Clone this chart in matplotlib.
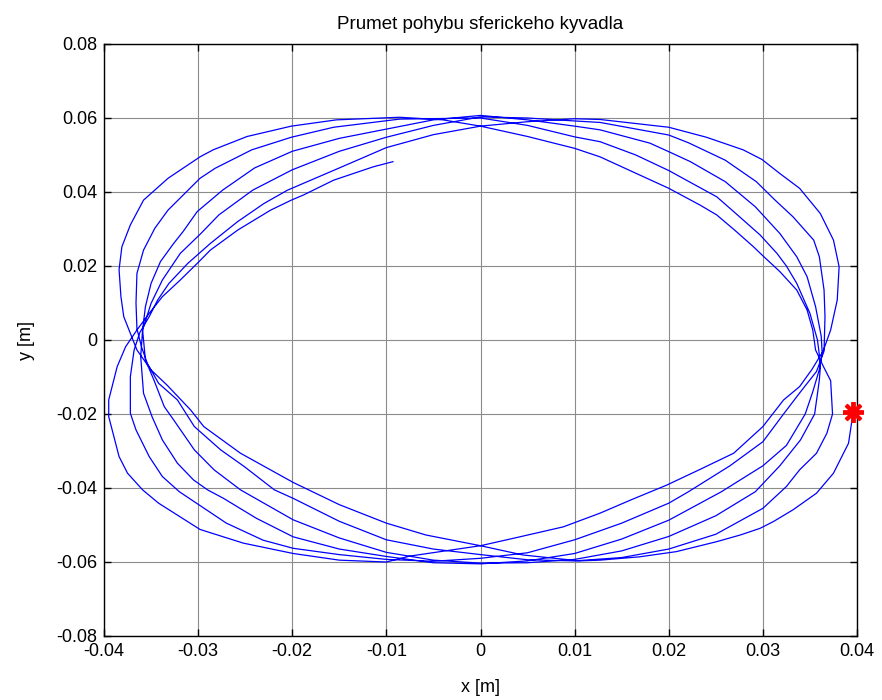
import numpy as np
import matplotlib
matplotlib.use("Agg")
import matplotlib.pyplot as plt

plt.rcParams['font.family'] = ['Liberation Sans', 'DejaVu Sans']

# Projected path of the spherical pendulum, one list of (x, y) points per revolution [m]
loop1 = [(0.0396, -0.0194), (0.0391, -0.0279), (0.0375, -0.0360), (0.0357, -0.0414), (0.0332, -0.0459),
         (0.0311, -0.0491), (0.0297, -0.0509), (0.0276, -0.0527), (0.0251, -0.0545), (0.0208, -0.0572),
         (0.0169, -0.0586), (0.0127, -0.0595), (0.0105, -0.0597), (0.0045, -0.0581), (0.0000, -0.0556),
         (-0.0058, -0.0527), (-0.0100, -0.0495), (-0.0150, -0.0445), (-0.0199, -0.0385), (-0.0223, -0.0351),
         (-0.0255, -0.0306), (-0.0294, -0.0234), (-0.0308, -0.0189), (-0.0333, -0.0122), (-0.0350, -0.0081),
         (-0.0365, -0.0027), (-0.0372, 0.0018), (-0.0379, 0.0063), (-0.0382, 0.0117), (-0.0384, 0.0190),
         (-0.0381, 0.0252), (-0.0372, 0.0311), (-0.0358, 0.0378), (-0.0332, 0.0437), (-0.0298, 0.0495),
         (-0.0284, 0.0514), (-0.0248, 0.0550), (-0.0201, 0.0578), (-0.0153, 0.0595), (-0.0086, 0.0602),
         (-0.0040, 0.0595), (0.0000, 0.0578), (0.0050, 0.0550), (0.0100, 0.0518), (0.0127, 0.0495),
         (0.0169, 0.0446), (0.0200, 0.0410), (0.0233, 0.0365), (0.0251, 0.0338), (0.0270, 0.0297),
         (0.0290, 0.0252), (0.0299, 0.0230), (0.0318, 0.0185), (0.0336, 0.0135), (0.0347, 0.0081),
         (0.0353, 0.0027), (0.0356, -0.0027)]

loop2 = [(0.0364, -0.0070), (0.0372, -0.0110), (0.0374, -0.0200), (0.0368, -0.0252), (0.0357, -0.0306),
         (0.0339, -0.0351), (0.0325, -0.0396), (0.0300, -0.0455), (0.0250, -0.0525), (0.0200, -0.0565),
         (0.0150, -0.0588), (0.0100, -0.0597), (0.0050, -0.0594), (0.0000, -0.0580), (-0.0050, -0.0565),
         (-0.0100, -0.0540), (-0.0150, -0.0490), (-0.0199, -0.0428), (-0.0219, -0.0405), (-0.0251, -0.0342),
         (-0.0276, -0.0297), (-0.0304, -0.0234), (-0.0322, -0.0162), (-0.0342, -0.0117), (-0.0354, -0.0063),
         (-0.0360, -0.0020), (-0.0365, 0.0030), (-0.0366, 0.0100), (-0.0365, 0.0180), (-0.0358, 0.0243),
         (-0.0346, 0.0302), (-0.0332, 0.0351), (-0.0298, 0.0437), (-0.0282, 0.0464), (-0.0243, 0.0514),
         (-0.0201, 0.0548), (-0.0156, 0.0575), (-0.0086, 0.0597), (0.0000, 0.0600), (0.0050, 0.0580),
         (0.0100, 0.0549), (0.0127, 0.0536), (0.0165, 0.0500), (0.0200, 0.0458), (0.0251, 0.0387),
         (0.0269, 0.0347), (0.0297, 0.0284), (0.0315, 0.0234), (0.0325, 0.0200), (0.0336, 0.0153),
         (0.0350, 0.0072), (0.0358, 0.0000), (0.0360, -0.0040)]

loop3 = [(0.0361, -0.0075), (0.0360, -0.0108), (0.0355, -0.0200), (0.0340, -0.0270), (0.0318, -0.0340),
         (0.0292, -0.0410), (0.0250, -0.0475), (0.0200, -0.0531), (0.0150, -0.0570), (0.0100, -0.0593),
         (0.0050, -0.0602), (0.0000, -0.0603), (-0.0050, -0.0595), (-0.0100, -0.0574), (-0.0150, -0.0535),
         (-0.0199, -0.0486), (-0.0255, -0.0405), (-0.0283, -0.0351), (-0.0304, -0.0297), (-0.0326, -0.0216),
         (-0.0336, -0.0180), (-0.0347, -0.0108), (-0.0356, -0.0054), (-0.0359, 0.0027), (-0.0356, 0.0090),
         (-0.0350, 0.0153), (-0.0340, 0.0212), (-0.0326, 0.0261), (-0.0316, 0.0293), (-0.0301, 0.0347),
         (-0.0274, 0.0405), (-0.0240, 0.0465), (-0.0200, 0.0510), (-0.0150, 0.0545), (-0.0100, 0.0570),
         (-0.0050, 0.0595), (0.0000, 0.0607), (0.0050, 0.0595), (0.0100, 0.0578), (0.0127, 0.0568),
         (0.0180, 0.0532), (0.0200, 0.0509), (0.0223, 0.0482), (0.0260, 0.0428), (0.0292, 0.0360),
         (0.0318, 0.0288), (0.0336, 0.0225), (0.0347, 0.0171), (0.0356, 0.0090), (0.0362, 0.0010),
         (0.0363, -0.0035)]

loop4 = [(0.0360, -0.0080), (0.0353, -0.0140), (0.0345, -0.0200), (0.0325, -0.0285), (0.0300, -0.0340),
         (0.0256, -0.0410), (0.0200, -0.0487), (0.0150, -0.0538), (0.0100, -0.0577), (0.0050, -0.0597),
         (0.0000, -0.0605), (-0.0050, -0.0602), (-0.0100, -0.0585), (-0.0150, -0.0565), (-0.0199, -0.0532),
         (-0.0238, -0.0482), (-0.0273, -0.0428), (-0.0290, -0.0405), (-0.0305, -0.0378), (-0.0322, -0.0333),
         (-0.0338, -0.0270), (-0.0349, -0.0207), (-0.0358, -0.0144), (-0.0361, -0.0045), (-0.0359, 0.0027),
         (-0.0350, 0.0099), (-0.0338, 0.0162), (-0.0319, 0.0234), (-0.0297, 0.0288), (-0.0278, 0.0338),
         (-0.0242, 0.0405), (-0.0200, 0.0460), (-0.0150, 0.0510), (-0.0100, 0.0548), (-0.0050, 0.0580),
         (0.0000, 0.0603), (0.0050, 0.0600), (0.0100, 0.0592), (0.0127, 0.0588), (0.0200, 0.0554),
         (0.0221, 0.0533), (0.0260, 0.0486), (0.0293, 0.0428), (0.0313, 0.0378), (0.0332, 0.0333),
         (0.0354, 0.0270), (0.0360, 0.0225), (0.0365, 0.0135), (0.0366, 0.0063), (0.0365, -0.0030)]

loop5 = [(0.0357, -0.0085), (0.0340, -0.0140), (0.0322, -0.0200), (0.0300, -0.0275), (0.0265, -0.0340),
         (0.0221, -0.0410), (0.0200, -0.0441), (0.0150, -0.0495), (0.0100, -0.0540), (0.0050, -0.0575),
         (0.0000, -0.0590), (-0.0050, -0.0598), (-0.0100, -0.0593), (-0.0150, -0.0580), (-0.0199, -0.0563),
         (-0.0231, -0.0541), (-0.0270, -0.0495), (-0.0320, -0.0410), (-0.0338, -0.0369), (-0.0352, -0.0315),
         (-0.0366, -0.0243), (-0.0372, -0.0198), (-0.0372, -0.0099), (-0.0368, -0.0027), (-0.0362, 0.0020),
         (-0.0352, 0.0063), (-0.0343, 0.0108), (-0.0331, 0.0153), (-0.0311, 0.0207), (-0.0287, 0.0261),
         (-0.0258, 0.0320), (-0.0230, 0.0369), (-0.0205, 0.0405), (-0.0150, 0.0465), (-0.0100, 0.0520),
         (-0.0050, 0.0555), (0.0000, 0.0578), (0.0050, 0.0590), (0.0100, 0.0598), (0.0127, 0.0596),
         (0.0200, 0.0575), (0.0240, 0.0548), (0.0279, 0.0514), (0.0299, 0.0488), (0.0318, 0.0450),
         (0.0339, 0.0410), (0.0361, 0.0342), (0.0375, 0.0270), (0.0381, 0.0198), (0.0379, 0.0108),
         (0.0372, 0.0027), (0.0364, -0.0030)]

loop6 = [(0.0352, -0.0080), (0.0339, -0.0126), (0.0322, -0.0162), (0.0300, -0.0234), (0.0269, -0.0306),
         (0.0233, -0.0350), (0.0198, -0.0392), (0.0160, -0.0432), (0.0127, -0.0468), (0.0088, -0.0505),
         (0.0040, -0.0533), (0.0000, -0.0556), (-0.0075, -0.0584), (-0.0100, -0.0600), (-0.0150, -0.0595),
         (-0.0199, -0.0577), (-0.0252, -0.0549), (-0.0298, -0.0512), (-0.0342, -0.0441), (-0.0359, -0.0405),
         (-0.0375, -0.0360), (-0.0384, -0.0315), (-0.0395, -0.0207), (-0.0395, -0.0162), (-0.0386, -0.0072),
         (-0.0377, -0.0018), (-0.0365, 0.0027), (-0.0352, 0.0072), (-0.0338, 0.0117), (-0.0319, 0.0162),
         (-0.0299, 0.0212), (-0.0287, 0.0243), (-0.0258, 0.0297), (-0.0223, 0.0351), (-0.0201, 0.0378),
         (-0.0188, 0.0392), (-0.0156, 0.0432), (-0.0114, 0.0468), (-0.0093, 0.0482)]

start_x = [0.0396]
start_y = [-0.0194]

x_ticks = [-0.04, -0.03, -0.02, -0.01, 0.0, 0.01, 0.02, 0.03, 0.04]
x_tick_labels = ['-0.04', '-0.03', '-0.02', '-0.01', '0', '0.01', '0.02', '0.03', '0.04']
y_ticks = [-0.08, -0.06, -0.04, -0.02, 0.0, 0.02, 0.04, 0.06, 0.08]
y_tick_labels = ['-0.08', '-0.06', '-0.04', '-0.02', '0', '0.02', '0.04', '0.06', '0.08']

path = np.array(loop1 + loop2 + loop3 + loop4 + loop5 + loop6)

fig = plt.figure(figsize=(8.82, 7.0), dpi=100)
ax = fig.add_axes([104 / 882, 64 / 700, 753 / 882, 592 / 700])

ax.plot(path[:, 0], path[:, 1], color='#0000ff', linewidth=0.9, zorder=3)
ax.plot(start_x, start_y, linestyle='none', marker=(8, 2, 0), markersize=15,
        markeredgewidth=2.8, color='#ff0000', zorder=4, clip_on=False)

ax.set_xlim(-0.04, 0.04)
ax.set_ylim(-0.08, 0.08)
ax.set_xticks(x_ticks)
ax.set_xticklabels(x_tick_labels)
ax.set_yticks(y_ticks)
ax.set_yticklabels(y_tick_labels)

ax.grid(True, color='#8c8c8c', linewidth=0.8, linestyle='-')
ax.set_axisbelow(True)
ax.tick_params(direction='in', top=True, right=True, length=5, width=1.0,
               labelsize=13, colors='black', pad=5)
for spine in ax.spines.values():
    spine.set_linewidth(1.0)
    spine.set_color('black')

ax.set_title('Prumet pohybu sferickeho kyvadla', fontsize=13.5, pad=11)
ax.set_xlabel('x [m]', fontsize=13, labelpad=14)
ax.set_ylabel('y [m]', fontsize=13, labelpad=15)

fig.savefig('out.png', dpi=100, facecolor='white')
